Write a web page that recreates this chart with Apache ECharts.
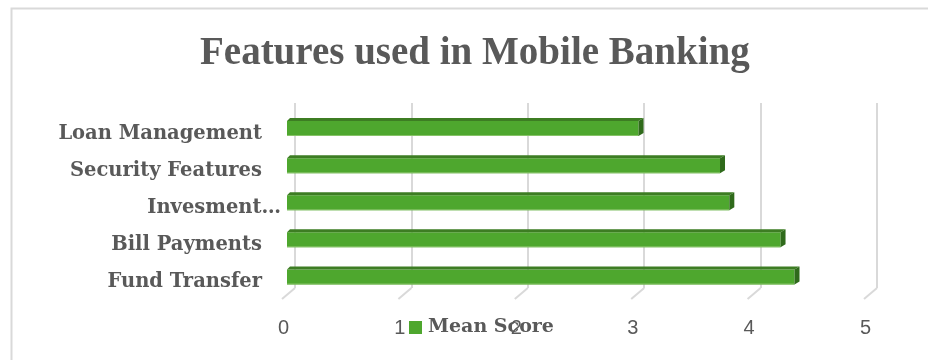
<!DOCTYPE html>
<html><head><meta charset="utf-8">
<script src="https://cdn.jsdelivr.net/npm/echarts@6/dist/echarts.min.js"></script>
<style>html,body{margin:0;padding:0;background:#fff}#c{width:928px;height:360px}</style>
</head><body><div id="c"></div>
<script>
const categories = ['Fund Transfer', 'Bill Payments', 'Invesment…', 'Security Features', 'Loan Management'];
const meanScore = [4.36, 4.24, 3.80, 3.72, 3.02];
const tickValues = [0, 1, 2, 3, 4, 5];
const seriesName = 'Mean Score';
const titleText = 'Features used in Mobile Banking';

const grey = '#595959';
const green = '#4ea72e';
const chart = echarts.init(document.getElementById('c'), null, {renderer: 'canvas'});
chart.setOption({
  animation: false,
  backgroundColor: '#fff',
  graphic: [{
    type: 'rect', left: 9, top: 6, shape: {width: 960, height: 400},
    style: {fill: 'none', stroke: '#d9d9d9', lineWidth: 2}, silent: true
  }],
  title: {
    text: titleText, left: 195, top: 29,
    textStyle: {fontFamily: 'Liberation Serif', fontWeight: 'bold', fontSize: 39, color: grey}
  },
  legend: {
    data: [seriesName], left: 409, top: 318, padding: 0, icon: 'rect', itemWidth: 13, itemHeight: 13, itemGap: 6,
    textStyle: {fontFamily: 'DejaVu Serif', fontWeight: 'bold', fontSize: 19, color: grey, padding: [0,0,0,1]}
  },
  grid: [
    {left: 287, width: 582, top: 108.5, height: 185.5},
    {left: 295, width: 582, top: 103, height: 185}
  ],
  xAxis: [
    {gridIndex: 0, type: 'value', min: 0, max: 5, interval: 1,
     axisLine: {show: false}, axisTick: {show: false}, splitLine: {show: false},
     axisLabel: {margin: 24, padding: [0, 7, 0, 0], fontFamily: 'Liberation Sans', fontSize: 20, color: grey}},
    {gridIndex: 1, type: 'value', min: 0, max: 5, interval: 1,
     axisLine: {show: false}, axisTick: {show: false}, axisLabel: {show: false},
     splitLine: {show: true, lineStyle: {color: '#d9d9d9', width: 2}}}
  ],
  yAxis: [
    {gridIndex: 0, type: 'category', data: categories,
     axisLine: {show: false}, axisTick: {show: false},
     axisLabel: {margin: 6, formatter: function (v) { return v.indexOf('…') >= 0 ? '{t|' + v + '}' : '{n|' + v + '}'; },
       rich: {
         n: {fontFamily: 'DejaVu Serif', fontWeight: 'bold', fontSize: 19.5, color: grey, padding: [13, 19, 0, 0]},
         t: {fontFamily: 'DejaVu Serif', fontWeight: 'bold', fontSize: 19.5, color: grey, padding: [13, 0, 0, 0]}
       }}},
    {gridIndex: 1, type: 'value', min: 0, max: 1, show: false}
  ],
  series: [
    {
      name: seriesName, type: 'custom', xAxisIndex: 0, yAxisIndex: 0,
      itemStyle: {color: green},
      encode: {x: 0, y: 1},
      data: meanScore.map(function (v, i) { return [v, i]; }),
      renderItem: function (params, api) {
        const p0 = api.coord([0, api.value(1)]);
        const p1 = api.coord([api.value(0), api.value(1)]);
        const x0 = p0[0], x1 = p1[0], yc = p1[1];
        const yt = yc - 9, yf = yc - 6, yb = yc + 9, dx = 5, dy = 3;
        return {type: 'group', children: [
          {type: 'rect', shape: {x: x0, y: yf, width: x1 - x0, height: yb - yf}, style: {fill: green}},
          {type: 'rect', shape: {x: x0, y: yb - 1, width: x1 - x0, height: 1}, style: {fill: '#86c267'}},
          {type: 'polygon', shape: {points: [[x0, yf], [x0 + 3, yt], [x1 + dx, yt], [x1, yf]]}, style: {fill: '#3d7d23'}},
          {type: 'polygon', shape: {points: [[x1, yf], [x1 + dx, yt], [x1 + dx, yb - dy], [x1, yb]]}, style: {fill: '#2f6a1b'}}
        ]};
      }
    },
    {
      type: 'custom', xAxisIndex: 1, yAxisIndex: 1, silent: true,
      data: tickValues.map(function (v) { return [v, 0]; }),
      renderItem: function (params, api) {
        const p = api.coord([api.value(0), 0]);
        return {type: 'line', shape: {x1: p[0], y1: p[1], x2: p[0] - 13, y2: p[1] + 11},
          style: {stroke: '#d9d9d9', lineWidth: 2}};
      }
    }
  ]
});
</script></body></html>
